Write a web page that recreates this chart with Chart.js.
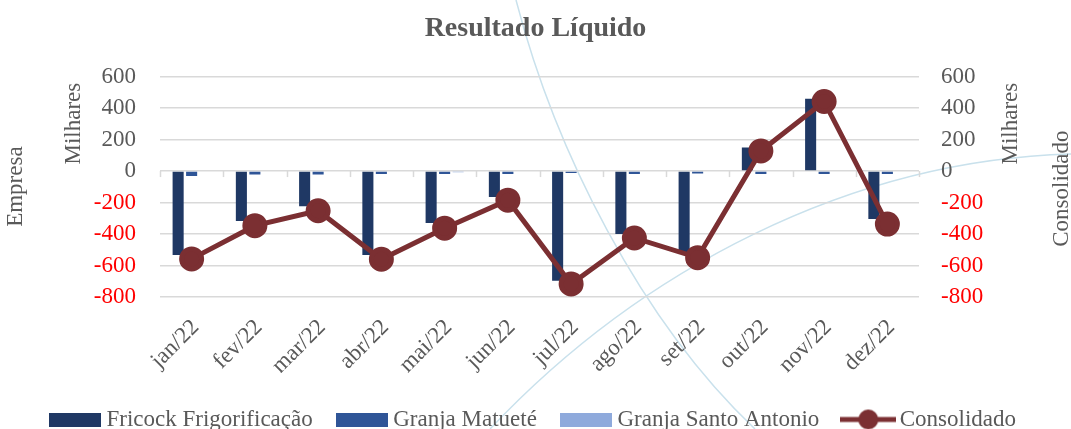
<!DOCTYPE html>
<html>
<head>
<meta charset="utf-8">
<script src="https://cdn.jsdelivr.net/npm/chart.js@4"></script>
<style>
  html, body { margin: 0; padding: 0; background: #fff; }
  #wrap { width: 1071px; height: 429px; }
</style>
</head>
<body>
<div id="wrap"><canvas id="resultChart"></canvas></div>
<script>
const meses = ["jan/22", "fev/22", "mar/22", "abr/22", "mai/22", "jun/22",
               "jul/22", "ago/22", "set/22", "out/22", "nov/22", "dez/22"];
// valores em milhares de R$
const fricock = [-533, -318, -223, -533, -330, -164, -697, -400, -515, 150, 460, -305];
const matuete = [-31, -22, -22, -18, -18, -18, -12, -18, -15, -18, -18, -18];
const santoAntonio = [0, 0, 0, -5, -8, -5, -5, -5, -5, -5, 0, -5];
const consolidado = [-558, -347, -252, -560, -363, -185, -717, -425, -550, 128, 442, -337];
const eixoTicks = [-800, -600, -400, -200, 0, 200, 400, 600];

const FONT = "'Liberation Serif', 'Times New Roman', serif";
const GRAY = "#595959";
const GRID = "#D9D9D9";

// legend markers built as small canvases
function boxMarker(color) {
  const c = document.createElement("canvas");
  c.width = 52; c.height = 14;
  const g = c.getContext("2d");
  g.fillStyle = color;
  g.fillRect(0, 0, 52, 14);
  return c;
}
function lineMarker(color) {
  const c = document.createElement("canvas");
  c.width = 56; c.height = 22;
  const g = c.getContext("2d");
  g.strokeStyle = color;
  g.lineWidth = 5;
  g.beginPath(); g.moveTo(0, 11); g.lineTo(56, 11); g.stroke();
  g.fillStyle = color;
  g.beginPath(); g.arc(28, 11, 10, 0, Math.PI * 2); g.fill();
  return c;
}

const extras = {
  id: "extras",
  afterLayout(chart) {
    // put the legend row where the chart area ends + labels, near the bottom edge
    const lg = chart.legend;
    const want = chart.chartArea.bottom + 82;
    const d = want - lg.top;
    lg.top += d; lg.bottom += d;
  },
  beforeDraw(chart) {
    // decorative background arcs
    const ctx = chart.ctx;
    ctx.save();
    ctx.strokeStyle = "#C9E1EC";
    ctx.lineWidth = 1.5;
    ctx.beginPath();
    ctx.moveTo(516, 0);
    ctx.bezierCurveTo(555, 150, 640, 320, 755, 429);
    ctx.stroke();
    ctx.beginPath();
    ctx.moveTo(490, 429);
    ctx.bezierCurveTo(640, 270, 850, 160, 1071, 154);
    ctx.stroke();
    ctx.restore();
  },
  beforeDatasetsDraw(chart) {
    // small category tick marks on the zero line
    const ctx = chart.ctx, x = chart.scales.x, y = chart.scales.y;
    const y0 = y.getPixelForValue(0);
    ctx.save();
    ctx.strokeStyle = GRID;
    ctx.lineWidth = 1.5;
    for (let i = 0; i <= meses.length; i++) {
      const px = Math.round(x.getPixelForValue(i - 0.5)) + 0.5;
      ctx.beginPath(); ctx.moveTo(px, y0); ctx.lineTo(px, y0 + 6); ctx.stroke();
    }
    ctx.restore();
  },
  afterDraw(chart) {
    const ctx = chart.ctx, a = chart.chartArea;
    ctx.save();
    ctx.fillStyle = GRAY;
    ctx.font = "23px " + FONT;
    ctx.textAlign = "center";
    ctx.textBaseline = "middle";
    const put = (txt, x, y) => {
      ctx.save(); ctx.translate(x, y); ctx.rotate(-Math.PI / 2);
      ctx.fillText(txt, 0, 0); ctx.restore();
    };
    put("Empresa", 16, a.top + 110);
    put("Milhares", 74, a.top + 47);
    put("Milhares", 1011, a.top + 47);
    put("Consolidado", 1062, a.top + 112);
    ctx.restore();
  }
};

new Chart(document.getElementById("resultChart"), {
  data: {
    labels: meses,
    datasets: [
      { type: "line", label: "Consolidado", data: consolidado, yAxisID: "y2",
        borderColor: "#7B2F32", backgroundColor: "#7B2F32", borderWidth: 5,
        pointRadius: 10, pointHoverRadius: 10, tension: 0, order: 0 },
      { type: "bar", label: "Fricock Frigorificação", data: fricock, yAxisID: "y",
        backgroundColor: "#1F3864", order: 1 },
      { type: "bar", label: "Granja Matueté", data: matuete, yAxisID: "y",
        backgroundColor: "#2F5597", order: 1 },
      { type: "bar", label: "Granja Santo Antonio", data: santoAntonio, yAxisID: "y",
        backgroundColor: "#8FAADC", order: 1 }
    ]
  },
  options: {
    responsive: true,
    maintainAspectRatio: false,
    animation: false,
    datasets: {
      bar: { categoryPercentage: 0.64, barPercentage: 0.82 }
    },
    layout: { padding: { top: 0, left: 0, right: 0, bottom: -6 } },
    plugins: {
      title: {
        display: true,
        text: "Resultado Líquido",
        color: GRAY,
        font: { family: FONT, size: 28, weight: "bold" },
        padding: { top: 12, bottom: 31 }
      },
      legend: {
        position: "bottom",
        labels: {
          color: GRAY,
          font: { family: FONT, size: 23 },
          usePointStyle: true,
          pointStyleWidth: 40,
          padding: 29,
          generateLabels: chart => {
            const order = [1, 2, 3, 0];
            return order.map(i => {
              const ds = chart.data.datasets[i];
              return {
                text: ds.label,
                datasetIndex: i,
                fontColor: GRAY,
                hidden: !chart.isDatasetVisible(i),
                pointStyle: ds.type === "line" ? lineMarker(ds.borderColor) : boxMarker(ds.backgroundColor),
                lineWidth: 0,
                strokeStyle: "transparent",
                fillStyle: "transparent"
              };
            });
          }
        }
      },
      tooltip: { enabled: false }
    },
    scales: {
      x: {
        grid: { display: false },
        border: { display: false },
        afterFit: s => { s.height = 76; },
        ticks: {
          color: GRAY,
          font: { family: FONT, size: 23 },
          minRotation: 45, maxRotation: 45,
          labelOffset: 4,
          padding: 9
        }
      },
      y: {
        position: "left",
        min: -800, max: 600,
        afterBuildTicks: s => { s.ticks = eixoTicks.map(v => ({ value: v })); },
        afterFit: s => { s.width = 160; },
        grid: { color: GRID, lineWidth: 1.5, drawTicks: false },
        border: { display: false },
        ticks: {
          color: c => c.tick.value < 0 ? "#FF0000" : GRAY,
          font: { family: FONT, size: 23 },
          padding: 24
        }
      },
      y2: {
        position: "right",
        min: -800, max: 600,
        afterBuildTicks: s => { s.ticks = eixoTicks.map(v => ({ value: v })); },
        afterFit: s => { s.width = 152; },
        grid: { drawOnChartArea: false, drawTicks: false },
        border: { display: false },
        ticks: {
          color: c => c.tick.value < 0 ? "#FF0000" : GRAY,
          font: { family: FONT, size: 23 },
          padding: 22
        }
      }
    }
  },
  plugins: [extras]
});
</script>
</body>
</html>
